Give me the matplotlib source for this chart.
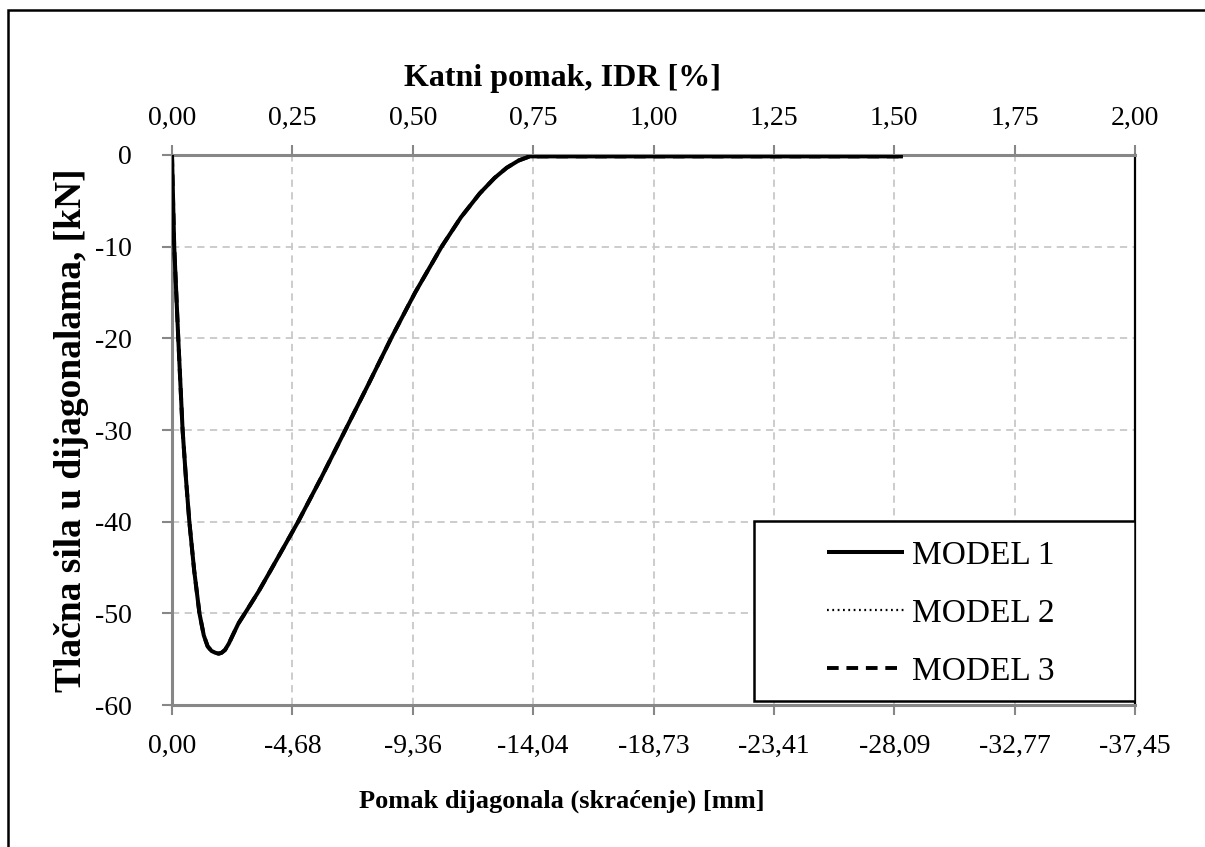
import matplotlib
matplotlib.use("Agg")
import matplotlib.pyplot as plt
import matplotlib.patches as mpatches

plt.rcParams["font.family"] = ["Liberation Serif", "DejaVu Serif"]

# storey drift (IDR, %) and compressive force in diagonals (kN)
idr = [0.000, 0.0046, 0.013, 0.022, 0.029, 0.036, 0.046, 0.057, 0.066, 0.074,
       0.082, 0.090, 0.097, 0.103, 0.110, 0.118, 0.127, 0.138, 0.155, 0.180,
       0.205, 0.233, 0.262, 0.310, 0.360, 0.408, 0.455, 0.505, 0.560, 0.600,
       0.639, 0.670, 0.695, 0.720, 0.743, 1.000, 1.250, 1.518]
model1 = [0.0, -10.0, -20.0, -30.0, -35.3, -40.0, -45.3, -50.0, -52.4, -53.6,
          -54.1, -54.3, -54.4, -54.3, -54.0, -53.3, -52.3, -51.1, -49.7, -47.6,
          -45.3, -42.7, -40.0, -35.2, -30.0, -25.0, -20.0, -15.0, -10.0, -6.8,
          -4.2, -2.5, -1.4, -0.6, -0.15, -0.15, -0.15, -0.15]
model2 = list(model1)
model3 = list(model1)

idr_ticks = [0.0, 0.25, 0.5, 0.75, 1.0, 1.25, 1.5, 1.75, 2.0]
idr_labels = ["0,00", "0,25", "0,50", "0,75", "1,00", "1,25", "1,50", "1,75", "2,00"]
mm_labels = ["0,00", "-4,68", "-9,36", "-14,04", "-18,73", "-23,41", "-28,09", "-32,77", "-37,45"]
y_ticks = [0, -10, -20, -30, -40, -50, -60]

GRAY = "#878787"

fig = plt.figure(figsize=(12.05, 8.47), dpi=100)
ax = fig.add_axes([172 / 1205, 1 - 705 / 847, (1135 - 172) / 1205, 550 / 847])

ax.plot(idr, model3, color="black", lw=2.8, ls=(0, (3, 2)), label="MODEL 3", zorder=3)
ax.plot(idr, model2, color="black", lw=1.6, ls=(0, (0.8, 1.6)), label="MODEL 2", zorder=4)
ax.plot(idr, model1, color="black", lw=2.9, ls="-", label="MODEL 1", zorder=5,
        solid_capstyle="butt", solid_joinstyle="round")

ax.set_xlim(0, 2.0)
ax.set_ylim(-60, 0)
ax.set_xticks(idr_ticks)
ax.set_xticklabels(mm_labels)
ax.set_yticks(y_ticks)
ax.set_yticklabels([str(v) for v in y_ticks])
ax.grid(True, color="#c8c8c8", ls=(0, (4, 3)), lw=1.3)
ax.set_axisbelow(True)

for side in ["left", "bottom", "top"]:
    ax.spines[side].set_color(GRAY)
    ax.spines[side].set_linewidth(2.2)
ax.spines["right"].set_color("black")
ax.spines["right"].set_linewidth(1.6)

ax.tick_params(axis="x", direction="out", length=7, width=1.5, color=GRAY,
               labelsize=20, pad=14)
ax.tick_params(axis="y", direction="out", length=7, width=1.5, color=GRAY,
               labelsize=20, pad=22)

top = ax.secondary_xaxis("top")
top.set_xticks(idr_ticks)
top.set_xticklabels(idr_labels)
top.tick_params(direction="out", length=7, width=1.5, color=GRAY, labelsize=20, pad=10)
top.spines["top"].set_visible(False)

# axis titles sit left of the plot-area centre, as in the source chart
title_x = (562 - 172) / 963
ax.set_xlabel("Pomak dijagonala (skraćenje) [mm]", fontsize=19, fontweight="bold", labelpad=22)
ax.xaxis.label.set_x(title_x)
top.set_xlabel("Katni pomak, IDR [%]", fontsize=23, fontweight="bold", labelpad=15)
top.xaxis.label.set_x(title_x)
ax.set_ylabel("Tlačna sila u dijagonalama, [kN]", fontsize=27, fontweight="bold", labelpad=4)

# legend with a separate box frame
handles, labels = ax.get_legend_handles_labels()
order = [2, 1, 0]
leg = ax.legend([handles[i] for i in order], [labels[i] for i in order],
                loc="center", bbox_to_anchor=((940.5 - 172) / 963, 1 - (613.5 - 155) / 550),
                frameon=False, fontsize=24, handlelength=2.3, handletextpad=0.24,
                labelspacing=0.83)
ax.add_patch(mpatches.Rectangle(((754 - 172) / 963, (705 - 701) / 550), (1135 - 754) / 963, 180 / 550,
                                transform=ax.transAxes, facecolor="white", edgecolor="black",
                                lw=1.8, zorder=6))
leg.set_zorder(7)

# outer chart border
fig.patches.append(mpatches.Rectangle((8 / 1205, -0.5), 2.0, 0.5 + 1 - 10 / 847,
                                      transform=fig.transFigure, fill=False,
                                      edgecolor="black", lw=1.8))

fig.savefig("out.png", dpi=100)
